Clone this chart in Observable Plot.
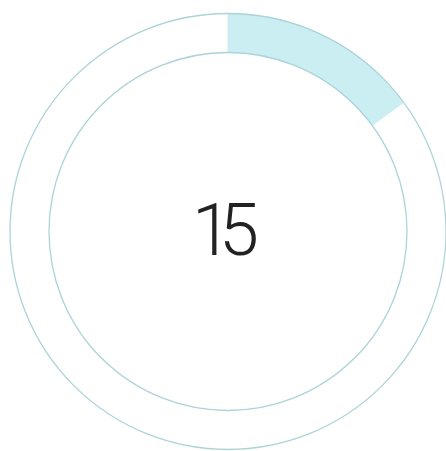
<!DOCTYPE html>
<html>
<head>
<meta charset="utf-8">
<script src="https://cdn.jsdelivr.net/npm/d3@7"></script>
<script src="https://cdn.jsdelivr.net/npm/@observablehq/plot@0.6"></script>
<style>
  html, body { margin: 0; padding: 0; background: #ffffff; }
  #chart svg { display: block; }
  #chart svg text.gauge-label { letter-spacing: -13px; }
</style>
</head>
<body>
<div id="chart"></div>
<script>
// Data
const categories = ["Value"];
const values = [15];
const maxValues = [100];
const labels = ["15"];

const data = categories.map((c, i) => ({ category: c, value: values[i], max: maxValues[i], label: labels[i], x: 0, y: 0 }));

const W = 446, H = 451;
const outerR = 218, innerR = 179;
const ringColor = "#abd3d8";
const fillColor = "#cbeef2";

// Angle scale built with Plot
const angle = Plot.scale({ x: { type: "linear", domain: [0, maxValues[0]], range: [0, 2 * Math.PI] } });

function arcMark(index, scales) {
  const cx = scales.x(0), cy = scales.y(0);
  const g = d3.create("svg:g").attr("transform", `translate(${cx},${cy})`);
  const arc = d3.arc().innerRadius(innerR).outerRadius(outerR);
  for (const d of data) {
    g.append("path")
      .attr("d", arc({ startAngle: angle.apply(0), endAngle: angle.apply(d.value) }))
      .attr("fill", fillColor);
  }
  return g.node();
}

const chart = Plot.plot({
  width: W,
  height: H,
  margin: 0,
  x: { domain: [-227.5, W - 227.5], axis: null },
  y: { domain: [-(H - 231), 231], axis: null },
  style: { background: "#ffffff" },
  marks: [
    Plot.dot(data, { x: "x", y: "y", r: 0, fill: "none" }),
    arcMark,
    Plot.dot(data, { x: "x", y: "y", r: outerR, fill: "none", stroke: ringColor, strokeWidth: 1.3 }),
    Plot.dot(data, { x: "x", y: "y", r: innerR, fill: "none", stroke: ringColor, strokeWidth: 1.3 }),
    Plot.text(data, { x: "x", y: "y", text: "label", fontSize: 72, fontWeight: 300, fontFamily: "Roboto", fill: "#222222", dx: -9 })
  ]
});

chart.querySelectorAll("g[aria-label='text'] text").forEach(t => t.setAttribute("class", "gauge-label"));
document.getElementById("chart").appendChild(chart);
</script>
</body>
</html>
